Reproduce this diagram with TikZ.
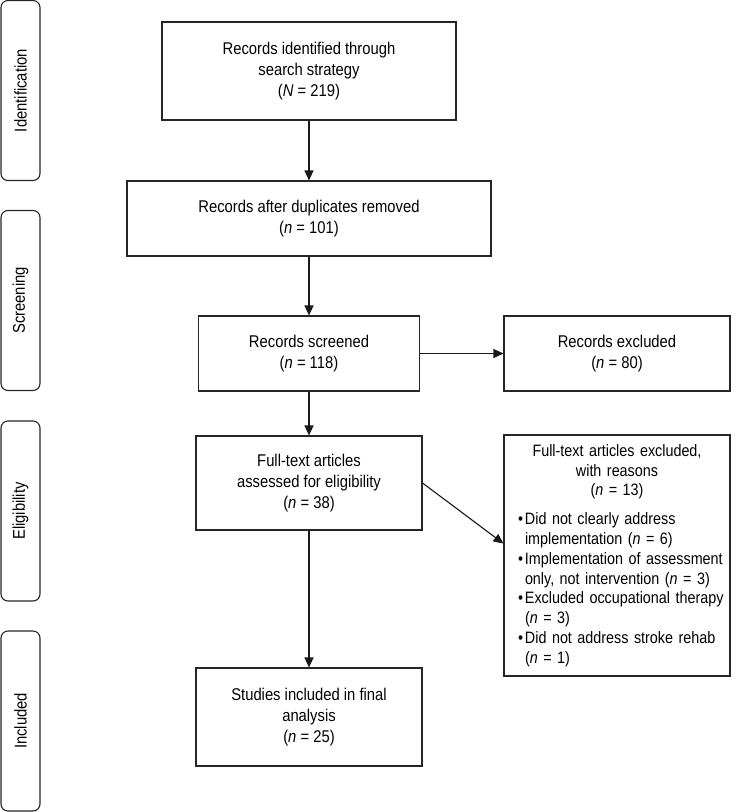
\documentclass[tikz,border=0pt]{standalone}
\usepackage{fontspec}
\setmainfont{Liberation Sans}[FakeStretch=0.87]
\usetikzlibrary{arrows.meta}

\newcommand{\reasonbullet}{\makebox[7pt][l]{\textbullet}}

\begin{document}
\begin{tikzpicture}[
            x = 1pt, y = -1pt,
            font = \fontsize{17}{21}\selectfont,
            box/.style = {
                draw = black!85, rectangle,
                align = center,
                line width = 1.1pt,
                inner sep = 0pt,
            },
            phase/.style = {
                draw = black!85, rectangle,
                rounded corners = 7pt,
                rotate = 90,
                line width = 1.1pt,
                minimum width = 180pt,
                minimum height = 39pt,
                inner sep = 0pt,
            },
            flow/.style = {
                -{Triangle[length = 10pt, width = 9pt]},
                line width = 1.1pt,
                black!90,
            },
        ]

        \useasboundingbox (0, 0) rectangle (751, 812);

        % Fasen
        \node[phase] (identification) at (20.5, 90.5) {Identification};
        \node[phase] (screening) at (20.5, 300.5) {Screening};
        \node[phase] (eligibility) at (20.5, 511) {Eligibility};
        \node[phase] (included) at (20.5, 721) {Included};

        % Blokken
        \node[box, minimum width = 294pt, minimum height = 98pt] (identified) at (309, 71)
            {Records identified through\\ search strategy\\ (\textit{N} = 219)};
        \node[box, minimum width = 364pt, minimum height = 75pt] (duplicates) at (309, 218.5)
            {Records after duplicates removed\\ (\textit{n} = 101)};
        \node[box, minimum width = 221pt, minimum height = 75pt] (screened) at (309, 353.5)
            {Records screened\\ (\textit{n} = 118)};
        \node[box, minimum width = 226pt, minimum height = 75pt] (excluded) at (617, 353.5)
            {Records excluded\\ (\textit{n} = 80)};
        \node[box, minimum width = 226pt, minimum height = 94pt] (fulltext) at (309, 483)
            {Full-text articles\\ assessed for eligibility\\ (\textit{n} = 38)};
        \node[box, minimum width = 226pt, minimum height = 241pt,
              font = \fontsize{16.5}{19.8}\selectfont,
              text width = 222pt, inner xsep = 2pt, align = left] (reasons) at (617, 555.5)
            {{\centering Full-text articles excluded,\\ with reasons\\ (\textit{n} = 13)\par}
             \vspace{9pt}
             \hspace*{12pt}\reasonbullet Did not clearly address\\
             \hspace*{19pt}implementation (\textit{n} = 6)\\
             \hspace*{12pt}\reasonbullet Implementation of assessment\\
             \hspace*{19pt}only, not intervention (\textit{n} = 3)\\
             \hspace*{12pt}\reasonbullet Excluded occupational therapy\\
             \hspace*{19pt}(\textit{n} = 3)\\
             \hspace*{12pt}\reasonbullet Did not address stroke rehab\\
             \hspace*{19pt}(\textit{n} = 1)};
        \node[box, minimum width = 226pt, minimum height = 98pt] (studies) at (309, 717)
            {Studies included in final\\ analysis\\ (\textit{n} = 25)};

        % Pijlen
        \path
        [
            flow
        ]
            (identified) edge (duplicates)
            (duplicates) edge (screened)
            (screened) edge (excluded)
            (screened) edge (fulltext)
            (fulltext.east) edge (reasons.174)
            (fulltext) edge (studies);

    \end{tikzpicture}
\end{document}
